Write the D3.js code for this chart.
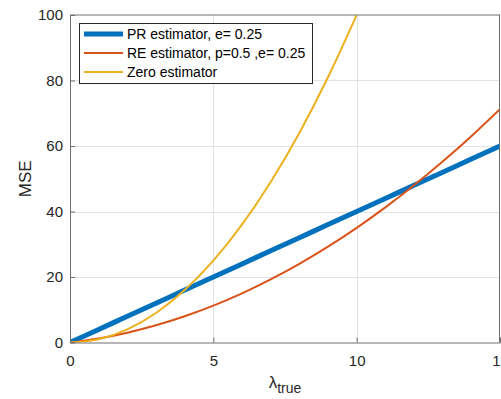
<!DOCTYPE html>
<html>
<head>
<meta charset="utf-8">
<script src="https://cdn.jsdelivr.net/npm/d3@7.9.0/dist/d3.min.js"></script>
<style>
  html, body { margin: 0; padding: 0; background: #fff; }
  svg { display: block; font-family: 'Liberation Sans', Arial, sans-serif; }
</style>
</head>
<body>
<div id="chart"></div>
<script>
// values
const lambda = [0, 1, 2, 3, 4, 5, 6, 7, 8, 9, 10, 11, 12, 13, 14, 15];
const prMse = [0, 4, 8, 12, 16, 20, 24, 28, 32, 36, 40, 44, 48, 52, 56, 60];
const reMse = [0, 1.25, 3, 5.25, 8, 11.25, 15, 19.25, 24, 29.25, 35, 41.25, 48, 55.25, 63, 71.25];
const zeroLambda = [0, 1, 2, 3, 4, 5, 6, 7, 8, 9, 10];
const zeroMse = [0, 1, 4, 9, 16, 25, 36, 49, 64, 81, 100];

const xTicks = [0, 5, 10, 15];
const yTicks = [0, 20, 40, 60, 80, 100];

const series = [
  { name: 'PR estimator, e= 0.25', x: lambda, y: prMse, color: '#0072BD', width: 5 },
  { name: 'RE estimator, p=0.5 ,e= 0.25', x: lambda, y: reMse, color: '#D95319', width: 2 },
  { name: 'Zero estimator', x: zeroLambda, y: zeroMse, color: '#EDB120', width: 2 },
];

const width = 501;
const height = 399;
const plot = { left: 70, right: 500, top: 15, bottom: 342.5 };

const svg = d3.select('#chart')
  .append('svg')
  .attr('width', width)
  .attr('height', height);

const xScale = d3.scaleLinear().domain([0, 15]).range([plot.left, plot.right]);
const yScale = d3.scaleLinear().domain([0, 100]).range([plot.bottom, plot.top]);

svg.append('defs').append('clipPath')
  .attr('id', 'clip')
  .append('rect')
  .attr('x', plot.left)
  .attr('y', plot.top)
  .attr('width', plot.right - plot.left)
  .attr('height', plot.bottom - plot.top);

// gridlines
const grid = svg.append('g').attr('stroke', '#e3e3e3').attr('stroke-width', 1);
grid.selectAll('.gx')
  .data(xTicks.slice(1, -1))
  .join('line')
  .attr('x1', (d) => Math.round(xScale(d)) + 0.5)
  .attr('x2', (d) => Math.round(xScale(d)) + 0.5)
  .attr('y1', plot.top)
  .attr('y2', plot.bottom);
grid.selectAll('.gy')
  .data(yTicks.slice(1, -1))
  .join('line')
  .attr('y1', (d) => Math.round(yScale(d)) + 0.5)
  .attr('y2', (d) => Math.round(yScale(d)) + 0.5)
  .attr('x1', plot.left)
  .attr('x2', plot.right);

// lines
const lines = svg.append('g').attr('clip-path', 'url(#clip)');
series.forEach((s) => {
  const pts = s.x.map((x, i) => [x, s.y[i]]);
  lines.append('path')
    .datum(pts)
    .attr('fill', 'none')
    .attr('stroke', s.color)
    .attr('stroke-width', s.width)
    .attr('d', d3.line()
      .x((d) => xScale(d[0]))
      .y((d) => yScale(d[1]))
      .curve(d3.curveMonotoneX));
});

// axes
const axisColor = '#6e6e6e';
const xAxis = svg.append('g')
  .attr('transform', `translate(0, ${plot.bottom})`)
  .call(d3.axisBottom(xScale).tickValues(xTicks).tickSize(-5).tickPadding(13).tickSizeOuter(0));
const yAxis = svg.append('g')
  .attr('transform', `translate(${plot.left}, 0)`)
  .call(d3.axisLeft(yScale).tickValues(yTicks).tickSize(-5).tickPadding(7).tickSizeOuter(0));
[xAxis, yAxis].forEach((ax) => {
  ax.select('.domain').attr('stroke', axisColor);
  ax.selectAll('.tick line').attr('stroke', axisColor);
  ax.selectAll('.tick text')
    .attr('fill', '#262626')
    .style('font-size', '15px')
    .style('font-family', "'Liberation Sans', Arial, sans-serif");
});

// box top and right
svg.append('line')
  .attr('x1', plot.left).attr('x2', plot.right)
  .attr('y1', plot.top).attr('y2', plot.top)
  .attr('stroke', axisColor);
svg.append('line')
  .attr('x1', plot.right - 0.5).attr('x2', plot.right - 0.5)
  .attr('y1', plot.top).attr('y2', plot.bottom)
  .attr('stroke', axisColor);

// axis labels
svg.append('text')
  .attr('transform', `translate(31, ${(plot.top + plot.bottom) / 2}) rotate(-90)`)
  .attr('text-anchor', 'middle')
  .attr('fill', '#262626')
  .style('font-size', '17px')
  .text('MSE');

const xl = svg.append('text')
  .attr('x', 285)
  .attr('y', 388)
  .attr('text-anchor', 'middle')
  .attr('fill', '#262626')
  .style('font-size', '17px');
xl.append('tspan').text('λ');
xl.append('tspan').attr('dy', 5).style('font-size', '14px').text('true');

// legend
const legend = svg.append('g');
legend.append('rect')
  .attr('x', 79.5).attr('y', 23.5)
  .attr('width', 233).attr('height', 60)
  .attr('fill', '#fff')
  .attr('stroke', '#262626')
  .attr('stroke-width', 1);
series.forEach((s, i) => {
  const y = 34 + i * 19;
  legend.append('line')
    .attr('x1', 84).attr('x2', 123)
    .attr('y1', y).attr('y2', y)
    .attr('stroke', s.color)
    .attr('stroke-width', s.width);
  legend.append('text')
    .attr('x', 127)
    .attr('y', y + 5)
    .attr('fill', '#000')
    .style('font-size', '14px')
    .text(s.name);
});
</script>
</body>
</html>
